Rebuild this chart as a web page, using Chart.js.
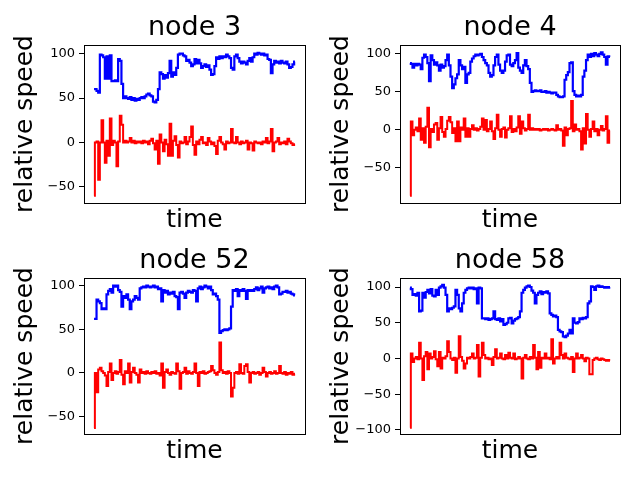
<!DOCTYPE html>
<html>
<head>
<meta charset="utf-8">
<script src="https://cdn.jsdelivr.net/npm/chart.js@4.4.0/dist/chart.umd.min.js"></script>
<style>
html,body{margin:0;padding:0;background:#fff;width:640px;height:480px;overflow:hidden;}
canvas{position:absolute;}
</style>
</head>
<body>
<canvas id="c0" width="316" height="235" style="left:0;top:0"></canvas>
<canvas id="c1" width="324" height="235" style="left:316px;top:0"></canvas>
<canvas id="c2" width="316" height="247" style="left:0;top:233px"></canvas>
<canvas id="c3" width="324" height="247" style="left:316px;top:233px"></canvas>
<script>
// ---- data (sampled along time) ----
const TITLES = ['node 3', 'node 4', 'node 52', 'node 58'];
const Y_LABEL = 'relative speed';
const X_LABEL = 'time';

const N3_BLUE = [60,60,58,56,99,98,96,72,97,72, 98,69,69,70,69,94,92,66,50,52, 50,49,51,48,50,47,49,48,50,51,
  50,52,54,55,53,52,46,45,48,60, 79,77,72,76,73,78,92,74,79,76, 84,99,100,100,98,97,92,93,90,86,
  88,94,89,93,89,84,86,88,85,87, 82,76,77,86,96,94,97,95,97,96, 99,97,95,84,82,97,99,95,91,89,
  91,90,88,92,95,91,96,100,99,101, 100,99,100,98,99,94,93,78,88,92, 90,91,89,92,90,89,91,88,84,85,88,91];
const N3_RED = [-60,0,1,-42,0,25,0,-23,2,-15, 27,-3,2,0,-27,1,30,20,0,2, 0,1,5,0,2,-1,1,0,1,-1,
  2,0,1,-2,2,4,-1,-8,2,-24, 9,0,-10,3,-2,-15,21,-15,2,7, -3,-17,1,-1,0,6,-2,1,6,18,
  -3,-14,1,-2,3,6,-1,0,-3,5, 1,-2,0,-4,-13,2,6,0,-2,-8, 1,-1,0,15,0,-1,6,0,-2,1,
  -1,0,2,-8,0,-1,-9,1,0,-1, 0,-2,1,0,5,-1,1,15,-10,0, 1,5,-2,0,-1,1,-2,4,1,-1,-3,-2];

const N4_BLUE = [88,87,82,87,85,87,86,80,95,99, 96,88,64,98,92,86,89,85,78,86, 82,84,92,99,85,70,55,60,68,73,
  92,85,80,83,62,73,75,90,94,97, 99,98,99,100,96,92,88,85,75,70, 72,85,96,99,86,78,75,78,90,98,
  99,86,84,88,92,101,82,78,75,85, 92,84,80,62,50,51,52,51,51,52, 50,50,51,49,50,49,48,49,49,46,
  44,43,43,44,66,72,76,88,89,51, 46,44,45,44,46,70,78,92,99,96, 100,97,101,99,97,100,102,99,96,86,97,96];
const N4_RED = [-87,11,-7,0,3,-2,15,-13,2,-17, 4,29,-23,1,-3,7,9,-13,2,17, -3,-9,1,12,17,10,-4,2,-15,11,
  -15,3,0,15,-9,2,-9,1,6,0, 2,-1,1,4,15,0,13,-2,1,11, -2,-12,2,20,0,-9,1,3,-10,0,
  2,18,-3,1,-2,3,18,-5,11,2, -1,1,20,0,2,0,1,0,1,-1, 0,1,0,1,-1,0,1,0,-1,6,
  0,1,-1,-21,3,-7,1,2,38,-2, 7,0,1,-2,-26,2,-18,21,0,-9, 1,11,-2,1,-7,0,5,-1,1,18,-17,-1];

const N52_BLUE = [62,62,84,82,80,73,74,73,90,94, 96,92,100,99,100,95,93,76,88,86, 90,84,73,82,84,88,86,84,97,98,
  99,98,100,99,98,99,100,98,99,96, 97,82,95,92,94,90,92,91,93,88, 87,73,92,93,91,86,92,94,93,92,
  95,94,82,97,99,96,98,100,99,97, 99,95,90,91,88,84,46,48,49,50, 49,50,51,76,95,94,96,88,95,94,
  96,94,85,95,94,95,94,96,98,95, 97,99,92,97,98,99,97,98,96,99, 100,98,90,91,93,93,94,92,93,91,90,89];
const N52_RED = [-63,0,-22,4,6,2,0,-3,-15,1, 11,-8,0,2,-1,1,15,-2,-13,2, 0,11,-11,1,6,0,-2,-11,4,0,
  1,-1,2,0,-1,1,0,2,-1,0, -3,11,-17,1,4,0,-2,1,0,-1, 11,2,-18,0,1,6,-1,2,0,-1,
  1,11,0,-15,1,0,2,-1,0,1, 2,8,3,0,-2,1,35,3,0,1, -1,2,0,-27,-17,0,1,-1,10,0,
  -1,8,10,1,-11,0,1,-1,0,1, -2,0,6,1,-4,0,1,-1,0,2, -1,0,8,0,-1,1,-2,0,-1,1,-2,-1];

const N58_BLUE = [99,97,89,90,88,92,66,67,92,85, 93,96,91,97,88,87,96,89,99,101, 103,99,89,66,70,69,71,73,96,89,
  70,66,77,92,96,98,99,98,99,97, 98,77,99,98,56,56,55,56,54,55, 56,66,55,54,56,52,55,47,48,50,
  56,57,49,53,55,56,58,66,92,96, 99,101,102,100,95,92,77,89,92,94, 90,93,92,94,91,63,61,59,60,58,
  40,38,37,31,30,32,35,40,35,56, 50,49,51,56,55,57,56,58,77,80, 101,100,96,101,102,100,101,100,99,100,99,100];
const N58_RED = [-97,7,-5,0,2,-1,22,0,-30,3, 9,-15,7,0,2,10,-1,-11,9,-14, 1,0,3,24,9,0,-2,1,-20,0,
  31,2,-3,-14,-7,1,0,2,7,0, 1,19,-25,1,22,5,0,1,-1,0, -9,2,13,0,1,7,0,-1,5,0,
  8,1,0,7,-1,0,2,0,-28,1, 5,0,-1,2,0,19,1,-15,9,-13, 1,0,7,0,1,-1,27,-7,0,2,
  0,22,5,0,7,1,0,-1,2,-19, 0,7,0,1,5,0,-4,1,0,-22, -22,-2,0,1,-1,-2,0,-1,-2,-3,-2,-3];

const Y_TICKS_3 = [-50, 0, 50, 100];
const Y_TICKS_4 = [-50, 0, 50, 100];
const Y_TICKS_52 = [-50, 0, 50, 100];
const Y_TICKS_58 = [-100, -50, 0, 50, 100];

const Y_LIMITS_3 = [-68.3, 109.8];
const Y_LIMITS_4 = [-96.4, 111.8];
const Y_LIMITS_52 = [-69.9, 108.8];
const Y_LIMITS_58 = [-105.6, 112.6];

// ---- drawing ----
const FAMILY = 'DejaVu Sans';
Chart.defaults.font.family = FAMILY;
Chart.defaults.color = '#000';

function fmt(v) { return v < 0 ? '\u2212' + Math.abs(v) : String(v); }

function makeChart(id, title, blue, red, yTicks, yLim, padRight, padBottom) {
  const n = blue.length;
  const toPts = arr => arr.map((v, i) => ({x: i, y: v}));
  const xMin = -0.05 * (n - 1), xMax = 1.05 * (n - 1);
  new Chart(document.getElementById(id), {
    type: 'line',
    data: {
      datasets: [
        {data: toPts(blue), borderColor: '#0000ff', borderWidth: 2.2, pointRadius: 0, stepped: 'middle', order: 2, xAxisID: 'x', yAxisID: 'y'},
        {data: toPts(red), borderColor: '#ff0000', borderWidth: 2, pointRadius: 0, stepped: 'middle', order: 1, xAxisID: 'x', yAxisID: 'y'}
      ]
    },
    options: {
      responsive: false,
      animation: false,
      events: [],
      layout: {padding: {left: 0, right: padRight, top: 0, bottom: padBottom}},
      plugins: {
        legend: {display: false},
        tooltip: {enabled: false},
        title: {display: true, text: title, fullSize: false, color: '#000',
          font: {family: FAMILY, size: 27, weight: 'normal'}, padding: {top: 12, bottom: 0.6}}
      },
      scales: {
        x: {type: 'linear', position: 'bottom', min: xMin, max: xMax,
          afterFit: s => { s.height = 32; },
          ticks: {display: false}, grid: {display: false},
          border: {display: true, color: '#000', width: 1},
          title: {display: true, text: X_LABEL, color: '#000', font: {family: FAMILY, size: 25}, padding: {top: 0, bottom: 0}}},
        y: {type: 'linear', position: 'left', min: yLim[0], max: yLim[1],
          afterFit: s => { s.width = 84; },
          afterBuildTicks: s => { s.ticks = yTicks.map(v => ({value: v})); },
          ticks: {color: '#000', font: {family: FAMILY, size: 13}, padding: 4, callback: v => fmt(v)},
          grid: {display: true, drawOnChartArea: false, drawTicks: true, tickLength: 5, tickColor: '#000', tickWidth: 1},
          border: {display: true, color: '#000', width: 1},
          title: {display: true, text: Y_LABEL, color: '#000', font: {family: FAMILY, size: 25}, padding: {top: 10.5, bottom: 0}}},
        xTop: {type: 'linear', position: 'top', min: 0, max: 1,
          afterFit: s => { s.height = 0; },
          ticks: {display: false}, grid: {display: false},
          border: {display: true, color: '#000', width: 1}},
        yRight: {type: 'linear', position: 'right', min: 0, max: 1,
          afterFit: s => { s.width = 0; },
          ticks: {display: false}, grid: {display: false},
          border: {display: true, color: '#000', width: 1}}
      }
    }
  });
}

makeChart('c0', TITLES[0], N3_BLUE, N3_RED, Y_TICKS_3, Y_LIMITS_3, 11, 0);
makeChart('c1', TITLES[1], N4_BLUE, N4_RED, Y_TICKS_4, Y_LIMITS_4, 20, 0);
makeChart('c2', TITLES[2], N52_BLUE, N52_RED, Y_TICKS_52, Y_LIMITS_52, 11, 14);
makeChart('c3', TITLES[3], N58_BLUE, N58_RED, Y_TICKS_58, Y_LIMITS_58, 20, 14);
</script>
</body>
</html>
